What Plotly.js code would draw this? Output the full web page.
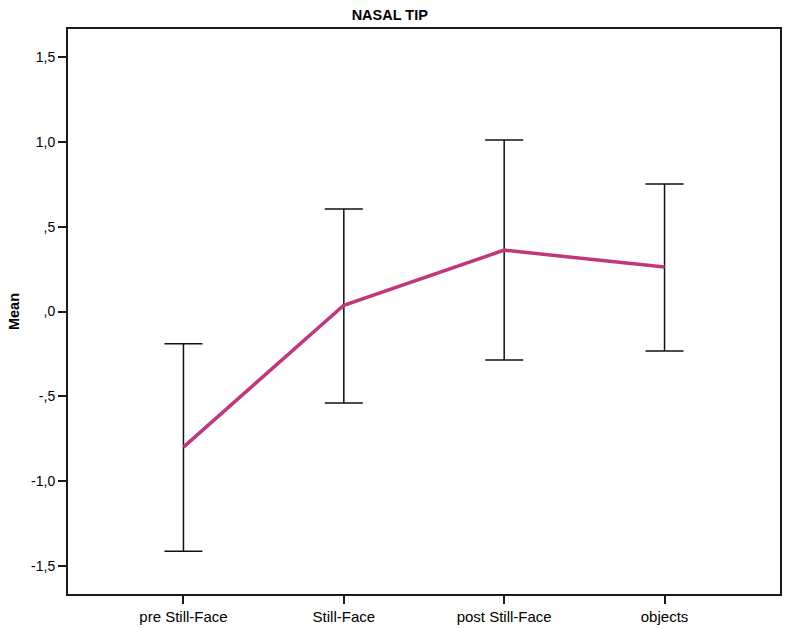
<!DOCTYPE html>
<html>
<head>
<meta charset="utf-8">
<script src="https://cdn.plot.ly/plotly-3.0.1.min.js"></script>
<style>
  html, body { margin: 0; padding: 0; background: #fff; }
  #chart { width: 789px; height: 628px; }
</style>
</head>
<body>
<div id="chart"></div>
<script>
// phases of the Still-Face procedure
const phases = ['pre Still-Face', 'Still-Face', 'post Still-Face', 'objects'];
// mean and the ends of the error bars
const means = [-0.80, 0.037, 0.362, 0.262];
const upper = [-0.19, 0.605, 1.012, 0.752];
const lower = [-1.415, -0.54, -0.286, -0.233];

// y ticks, SPSS style with comma decimals
const yTickVals = [-1.5, -1.0, -0.5, 0, 0.5, 1.0, 1.5];
const yTickText = ['-1,5', '-1,0', '-,5', ',0', ',5', '1,0', '1,5'];

const font = 'Liberation Sans, Arial, sans-serif';

const trace = {
    x: phases,
    y: means,
    type: 'scatter',
    mode: 'lines',
    line: { color: '#c2367c', width: 3.5 },
    error_y: {
        type: 'data',
        symmetric: false,
        array: upper.map((u, i) => u - means[i]),
        arrayminus: lower.map((l, i) => means[i] - l),
        color: '#111',
        thickness: 1.5,
        width: 19
    },
    hoverinfo: 'skip'
};

const layout = {
    width: 789,
    height: 628,
    margin: { l: 68, r: 9, t: 29, b: 34 },
    paper_bgcolor: '#fff',
    plot_bgcolor: '#fff',
    showlegend: false,
    font: { family: font, color: '#000' },
    title: {
        text: '<b>NASAL TIP</b>',
        font: { family: font, size: 14.5, color: '#000' },
        xref: 'container', x: 0.494,
        yref: 'container', y: 0.977, yanchor: 'middle'
    },
    xaxis: {
        type: 'category',
        range: [-0.72, 3.72],
        showgrid: false,
        zeroline: false,
        showline: true,
        mirror: true,
        linecolor: '#1a1a1a',
        linewidth: 2,
        ticks: 'outside',
        ticklen: 8,
        tickwidth: 2,
        tickcolor: '#1a1a1a',
        tickfont: { family: font, size: 15, color: '#000' }
    },
    yaxis: {
        range: [-1.667, 1.667],
        tickmode: 'array',
        tickvals: yTickVals,
        ticktext: yTickText,
        showgrid: false,
        zeroline: false,
        showline: true,
        mirror: true,
        linecolor: '#1a1a1a',
        linewidth: 2,
        ticks: 'outside',
        ticklen: 8,
        tickwidth: 2,
        tickcolor: '#1a1a1a',
        tickfont: { family: font, size: 14, color: '#000' },
        title: {
            text: '<b>Mean</b>',
            font: { family: font, size: 14.5, color: '#000' },
            standoff: 8
        },
        automargin: false
    }
};

Plotly.newPlot('chart', [trace], layout, { displayModeBar: false, staticPlot: true });
</script>
</body>
</html>
